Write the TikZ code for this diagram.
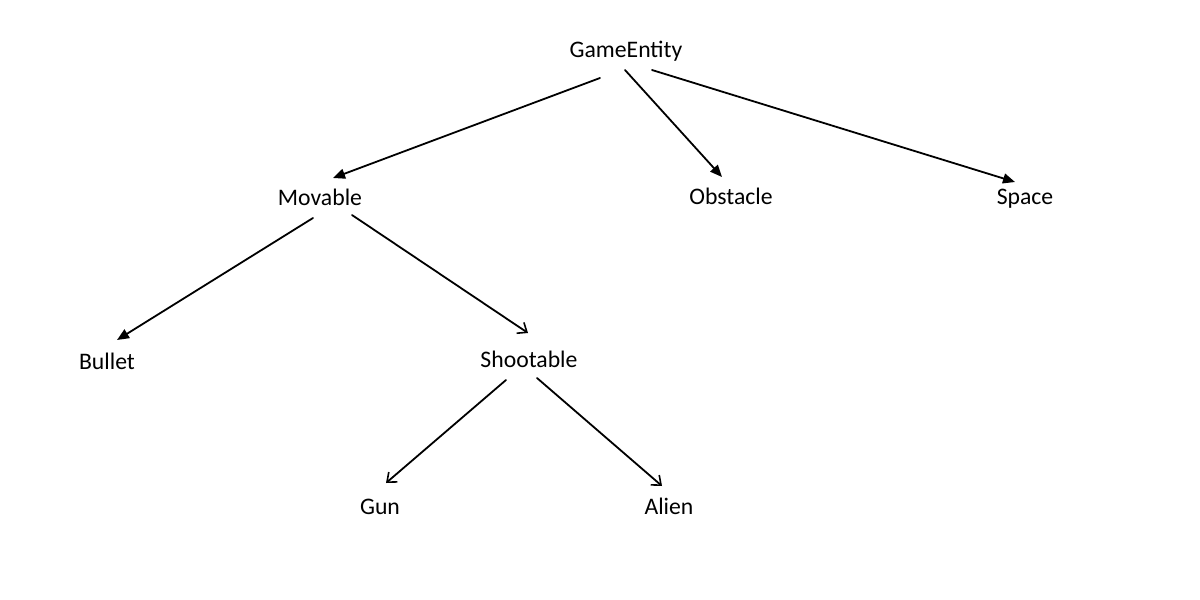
\documentclass[tikz,border=0pt]{standalone}
\usepackage{fontspec}
\setmainfont{Carlito}
\usetikzlibrary{arrows.meta,calc}
\begin{document}
\begin{tikzpicture}[x=1pt,y=-1pt,
  lbl/.style={font=\fontsize{23.7}{28}\selectfont, inner sep=0pt},
  edge/.style={line width=1.8pt, line cap=round},
  filled/.style={edge, -{Triangle[length=12pt,width=10pt]}},
  open/.style={edge, -{Straight Barb[length=8pt,width=13pt,line width=1.6pt]}}]
\useasboundingbox (0,0) rectangle (1200,600);
\node[lbl] (ge) at (626,51) {GameEntity};
\node[lbl] (mov) at (320,197) {Movable};
\node[lbl] (obs) at (731,196) {Obstacle};
\node[lbl] (spa) at (1025,199) {Space};
\node[lbl] (bul) at (107,361) {Bullet};
\node[lbl] (sho) at (529,359) {Shootable};
\node[lbl] (gun) at (380,507) {Gun};
\node[lbl] (ali) at (669,506) {Alien};
\draw[filled] ($(ge)+(-26,27)$) -- ($(mov)+(13,-19)$);
\draw[filled] ($(ge)+(-1,19)$) -- ($(obs)+(-9,-19)$);
\draw[filled] ($(ge)+(26,19)$) -- ($(spa)+(-10,-17)$);
\draw[filled] ($(mov)+(-7,21)$) -- ($(bul)+(10,-21)$);
\draw[open] ($(mov)+(32,18)$) -- ($(sho)+(-1,-26)$);
\draw[open] ($(sho)+(-23,21)$) -- ($(gun)+(6,-24)$);
\draw[open] ($(sho)+(8,19)$) -- ($(ali)+(-7,-20)$);
\end{tikzpicture}
\end{document}
